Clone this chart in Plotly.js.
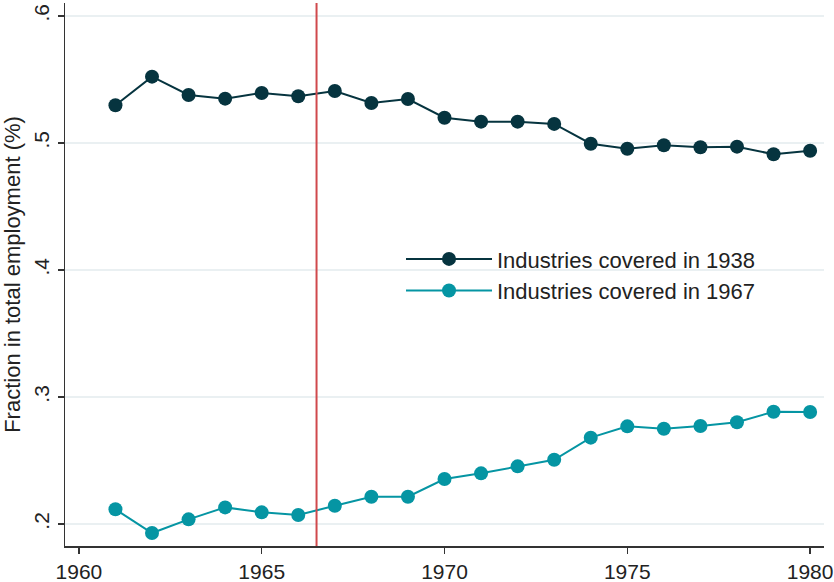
<!DOCTYPE html>
<html>
<head>
<meta charset="utf-8">
<script src="https://cdn.plot.ly/plotly-3.0.1.min.js"></script>
<style>html,body{margin:0;padding:0;background:#fff;}#chart{width:834px;height:582px;}</style>
</head>
<body>
<div id="chart"></div>
<script>
const years = [1961,1962,1963,1964,1965,1966,1967,1968,1969,1970,1971,1972,1973,1974,1975,1976,1977,1978,1979,1980];
const covered1938 = [0.5297,0.5522,0.5378,0.5349,0.5394,0.5368,0.5409,0.5315,0.5346,0.5199,0.5168,0.5168,0.5150,0.4994,0.4955,0.4982,0.4966,0.4971,0.4911,0.4939];
const covered1967 = [0.2116,0.1929,0.2037,0.2131,0.2092,0.2071,0.2144,0.2215,0.2215,0.2354,0.2399,0.2454,0.2506,0.2680,0.2769,0.2750,0.2772,0.2801,0.2884,0.2882];
const seriesNames = ["Industries covered in 1938","Industries covered in 1967"];
const xTicks = [1960,1965,1970,1975,1980];
const yTicks = [0.2,0.3,0.4,0.5,0.6];
const yTickText = [".2",".3",".4",".5",".6"];
const policyYear = 1966.5;

const font = "Liberation Sans, Arial, sans-serif";
const traces = [
  {x: years, y: covered1938, name: seriesNames[0], type: "scatter", mode: "lines+markers",
   line: {color: "#06343f", width: 2}, marker: {color: "#06343f", size: 14}},
  {x: years, y: covered1967, name: seriesNames[1], type: "scatter", mode: "lines+markers",
   line: {color: "#0595a3", width: 2}, marker: {color: "#0595a3", size: 14}}
];
const layout = {
  width: 834, height: 582,
  margin: {l: 65, r: 10, t: 3, b: 36},
  paper_bgcolor: "#fff", plot_bgcolor: "#fff",
  font: {family: font, color: "#222", size: 21},
  showlegend: true,
  legend: {x: 0.4427, y: 0.567, xanchor: "left", yanchor: "top", bgcolor: "rgba(0,0,0,0)",
           itemwidth: 86,
           font: {family: font, size: 22, color: "#222"}, tracegroupgap: 0},
  xaxis: {range: [1959.62, 1980.38], tickvals: xTicks, ticks: "outside", ticklen: 6, tickwidth: 1.5,
          tickcolor: "#333", showline: true, linecolor: "#333", linewidth: 1.5, showgrid: false,
          zeroline: false, tickfont: {size: 21, family: font, color: "#222"}},
  yaxis: {range: [0.1827, 0.6102], tickvals: yTicks, ticktext: yTickText, tickangle: -90,
          ticks: "outside", ticklen: 6, tickwidth: 1.5, tickcolor: "#333", showline: true,
          linecolor: "#333", linewidth: 1.5, showgrid: true, gridcolor: "#eaf0f2", gridwidth: 1.5,
          zeroline: false, tickfont: {size: 21, family: font, color: "#222"},
          title: {text: "Fraction in total employment (%)", font: {size: 22, family: font, color: "#222"}, standoff: 6}},
  shapes: [{type: "line", xref: "x", yref: "paper", x0: policyYear, x1: policyYear, y0: 0, y1: 1,
            line: {color: "#d0494c", width: 2}}]
};
Plotly.newPlot("chart", traces, layout, {displayModeBar: false, staticPlot: true});
</script>
</body>
</html>
